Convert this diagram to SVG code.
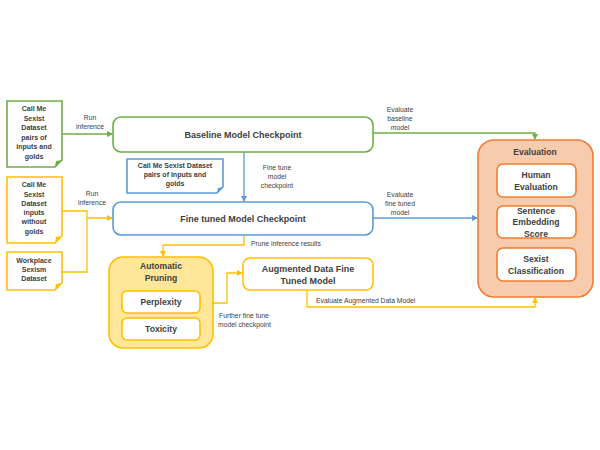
<svg xmlns="http://www.w3.org/2000/svg" width="600" height="450" viewBox="0 0 600 450">
<style>
text{font-family:"Liberation Sans",Arial,sans-serif;fill:#404040;text-anchor:middle;dominant-baseline:central}
.s{font-size:6.8px}
.d{font-size:7px;font-weight:bold}
.t{font-size:9px;font-weight:bold}
.e{font-size:8.6px;font-weight:bold}
.l{text-anchor:start}
.g{stroke:#70ad47}
.b{stroke:#5b9bd5}
.y{stroke:#ffc000}
.box{fill:#fff;stroke-width:1.6}
.c{fill:none;stroke-width:1.3}
</style>
<defs>
<marker id="ag" viewBox="0 0 6 6" refX="5" refY="3" markerWidth="5" markerHeight="5" orient="auto"><path d="M0,0L6,3L0,6Z" fill="#70ad47"/></marker>
<marker id="ab" viewBox="0 0 6 6" refX="5" refY="3" markerWidth="5" markerHeight="5" orient="auto"><path d="M0,0L6,3L0,6Z" fill="#5b9bd5"/></marker>
<marker id="ay" viewBox="0 0 6 6" refX="5" refY="3" markerWidth="5" markerHeight="5" orient="auto"><path d="M0,0L6,3L0,6Z" fill="#ffc000"/></marker>
</defs>
<rect width="600" height="450" fill="#fff"/>

<g id="connectors">
<path class="c g" d="M62,134H112" marker-end="url(#ag)"/>
<text class="s" x="90" y="117">Run</text><text class="s" x="90" y="126">inference</text>
<path class="c g" d="M373,133H535V139" marker-end="url(#ag)"/>
<text class="s" x="400" y="109">Evaluate</text><text class="s" x="400" y="118">baseline</text><text class="s" x="400" y="127">model</text>
<path class="c b" d="M244,152V201" marker-end="url(#ab)"/>
<text class="s" x="277" y="167">Fine tune</text><text class="s" x="277" y="176">model</text><text class="s" x="277" y="185">checkpoint</text>
<path class="c b" d="M373,218H477" marker-end="url(#ab)"/>
<text class="s" x="400" y="194">Evaluate</text><text class="s" x="400" y="203">fine tuned</text><text class="s" x="400" y="212">model</text>
<path class="c y" d="M62,211H87V272H62M87,218H112" marker-end="url(#ay)"/>
<text class="s" x="92" y="193">Run</text><text class="s" x="92" y="202">inference</text>
<path class="c y" d="M244,235V245H163V256" marker-end="url(#ay)"/>
<text class="s l" x="251" y="243">Prune inference results</text>
<path class="c y" d="M213,303H227V273H242" marker-end="url(#ay)"/>
<text class="s l" x="219" y="315">Further fine tune</text><text class="s l" x="218" y="324">model checkpoint</text>
<path class="c y" d="M307,290V307H535V298" marker-end="url(#ay)"/>
<text class="s l" x="316" y="300">Evaluate Augmented Data Model</text>
</g>

<g id="doc-green">
<path class="box g" d="M7,101H62V160L55,167H7Z"/>
<path d="M55,167L56,161L62,160Z" fill="#70ad47"/>
<text class="d" x="34" y="108">Call Me</text><text class="d" x="34" y="118">Sexist</text><text class="d" x="34" y="127">Dataset</text><text class="d" x="34" y="137">pairs of</text><text class="d" x="34" y="146">inputs and</text><text class="d" x="34" y="156">golds</text>
</g>

<g id="doc-orange1">
<path class="box y" d="M7,177H62V236L55,243H7Z"/>
<path d="M55,243L56,237L62,236Z" fill="#ffc000"/>
<text class="d" x="34" y="184">Call Me</text><text class="d" x="34" y="194">Sexist</text><text class="d" x="34" y="203">Dataset</text><text class="d" x="34" y="212">inputs</text><text class="d" x="34" y="221">without</text><text class="d" x="34" y="231">golds</text>
</g>

<g id="doc-orange2">
<path class="box y" d="M7,252H62V283L55,290H7Z"/>
<path d="M55,290L56,284L62,283Z" fill="#ffc000"/>
<text class="d" x="34" y="260">Workplace</text><text class="d" x="34" y="269">Sexism</text><text class="d" x="34" y="278">Dataset</text>
</g>

<g id="baseline">
<rect class="box g" x="113" y="117" width="260" height="35" rx="8"/>
<text class="t" x="243" y="135">Baseline Model Checkpoint</text>
</g>

<g id="doc-blue">
<path class="box b" d="M127,159H223V187L217,193H127Z"/>
<path d="M217,193L218,188L223,187Z" fill="#5b9bd5"/>
<text class="d" x="175" y="165">Call Me Sexist Dataset</text><text class="d" x="175" y="174">pairs of inputs and</text><text class="d" x="175" y="183">golds</text>
</g>

<g id="finetuned">
<rect class="box b" x="113" y="202" width="260" height="33" rx="8"/>
<text class="t" x="243" y="219">Fine tuned Model Checkpoint</text>
</g>

<g id="pruning">
<rect x="109" y="257" width="104" height="91" rx="14" fill="#ffe699" stroke="#ffc000" stroke-width="1.6"/>
<text class="e" x="161" y="266">Automatic</text><text class="e" x="161" y="278">Pruning</text>
<rect class="box y" x="122" y="291" width="78" height="22" rx="5"/>
<text class="e" x="161" y="302">Perplexity</text>
<rect class="box y" x="122" y="318" width="78" height="22" rx="5"/>
<text class="e" x="161" y="329">Toxicity</text>
</g>

<g id="augmented">
<rect class="box y" x="243" y="258" width="130" height="32" rx="7"/>
<text class="t" x="308" y="269">Augmented Data Fine</text><text class="t" x="308" y="281">Tuned Model</text>
</g>

<g id="evaluation">
<rect x="478" y="140" width="115" height="157" rx="16" fill="#f8cbad" stroke="#ed7d31" stroke-width="1.6"/>
<text class="e" x="535" y="152">Evaluation</text>
<rect x="497" y="164" width="79" height="33" rx="6" fill="#fff" stroke="#ed7d31" stroke-width="1.6"/>
<text class="e" x="536" y="175">Human</text><text class="e" x="536" y="187">Evaluation</text>
<rect x="497" y="206" width="79" height="32" rx="6" fill="#fff" stroke="#ed7d31" stroke-width="1.6"/>
<text class="e" x="536" y="211">Sentence</text><text class="e" x="536" y="222">Embedding</text><text class="e" x="536" y="234">Score</text>
<rect x="497" y="248" width="79" height="33" rx="6" fill="#fff" stroke="#ed7d31" stroke-width="1.6"/>
<text class="e" x="536" y="259">Sexist</text><text class="e" x="536" y="271">Classification</text>
</g>
</svg>
